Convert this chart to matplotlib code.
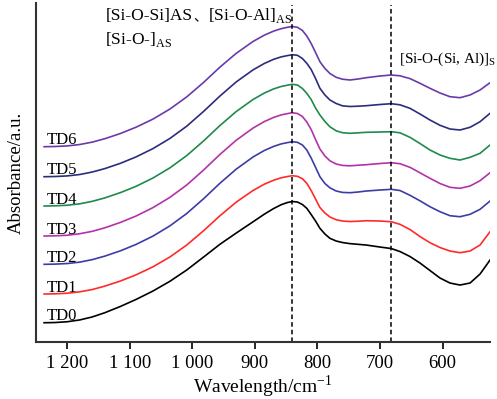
import numpy as np
import matplotlib
matplotlib.use('Agg')
import matplotlib.pyplot as plt

plt.rcParams['font.family'] = ['Liberation Serif', 'Noto Sans CJK SC']
plt.rcParams['mathtext.fontset'] = 'custom'
plt.rcParams['mathtext.rm'] = 'Liberation Serif'

# wavenumber grid (cm-1) and absorbance readings (a.u., curves are offset)
wavenumber = [1237, 1220, 1200, 1180, 1160, 1140, 1115, 1090, 1063, 1036, 1009, 982, 956, 930, 903,
              885, 870, 858, 848, 840, 832, 824, 817, 810, 803, 796, 788, 780, 770, 760,
              748, 735, 722, 700, 682, 668, 652, 636, 620, 604, 588, 572, 556, 540, 524]

td0 = [0.203, 0.205, 0.213, 0.231, 0.261, 0.303, 0.366, 0.436, 0.520, 0.617, 0.730, 0.860, 0.987, 1.099, 1.212,
       1.288, 1.345, 1.383, 1.405, 1.415, 1.410, 1.385, 1.347, 1.285, 1.220, 1.147, 1.090, 1.047, 1.020, 1.005,
       0.994, 0.987, 0.980, 0.960, 0.945, 0.915, 0.865, 0.800, 0.725, 0.650, 0.600, 0.580, 0.600, 0.690, 0.830]
td1 = [0.490, 0.492, 0.498, 0.512, 0.535, 0.569, 0.620, 0.682, 0.762, 0.860, 0.980, 1.123, 1.272, 1.408, 1.525,
       1.588, 1.628, 1.652, 1.665, 1.673, 1.667, 1.643, 1.597, 1.525, 1.440, 1.355, 1.300, 1.260, 1.233, 1.220,
       1.215, 1.218, 1.223, 1.220, 1.213, 1.187, 1.135, 1.065, 1.003, 0.955, 0.920, 0.903, 0.920, 0.980, 1.113]
td2 = [0.787, 0.789, 0.795, 0.809, 0.834, 0.869, 0.922, 0.986, 1.069, 1.171, 1.295, 1.443, 1.597, 1.738, 1.860,
       1.925, 1.966, 1.991, 2.004, 2.013, 2.007, 1.980, 1.930, 1.850, 1.757, 1.663, 1.595, 1.552, 1.520, 1.506,
       1.503, 1.510, 1.520, 1.530, 1.537, 1.525, 1.477, 1.422, 1.363, 1.313, 1.273, 1.263, 1.287, 1.337, 1.420]
td3 = [1.070, 1.072, 1.078, 1.093, 1.117, 1.152, 1.206, 1.270, 1.354, 1.456, 1.580, 1.730, 1.885, 2.027, 2.149,
       2.214, 2.256, 2.281, 2.294, 2.303, 2.295, 2.265, 2.210, 2.135, 2.035, 1.940, 1.870, 1.822, 1.790, 1.776,
       1.772, 1.778, 1.783, 1.795, 1.803, 1.793, 1.757, 1.702, 1.647, 1.595, 1.557, 1.547, 1.570, 1.623, 1.703]
td4 = [1.370, 1.372, 1.378, 1.392, 1.417, 1.451, 1.504, 1.567, 1.650, 1.751, 1.874, 2.021, 2.174, 2.314, 2.435,
       2.499, 2.541, 2.565, 2.578, 2.587, 2.580, 2.545, 2.497, 2.435, 2.350, 2.280, 2.215, 2.162, 2.122, 2.103,
       2.097, 2.102, 2.107, 2.110, 2.113, 2.102, 2.057, 1.995, 1.930, 1.880, 1.847, 1.830, 1.857, 1.897, 1.980]
td5 = [1.663, 1.665, 1.671, 1.685, 1.710, 1.744, 1.797, 1.861, 1.944, 2.045, 2.168, 2.316, 2.469, 2.610, 2.731,
       2.795, 2.837, 2.861, 2.874, 2.883, 2.877, 2.845, 2.797, 2.735, 2.645, 2.547, 2.480, 2.430, 2.395, 2.372,
       2.365, 2.368, 2.373, 2.385, 2.393, 2.382, 2.347, 2.290, 2.230, 2.177, 2.140, 2.130, 2.157, 2.213, 2.297]
td6 = [1.963, 1.965, 1.971, 1.985, 2.009, 2.043, 2.095, 2.158, 2.239, 2.339, 2.461, 2.606, 2.758, 2.896, 3.015,
       3.078, 3.119, 3.143, 3.157, 3.165, 3.157, 3.125, 3.070, 2.995, 2.905, 2.813, 2.745, 2.695, 2.657, 2.638,
       2.630, 2.640, 2.653, 2.670, 2.680, 2.672, 2.644, 2.597, 2.547, 2.500, 2.463, 2.453, 2.480, 2.530, 2.603]

labels = ['TD0', 'TD1', 'TD2', 'TD3', 'TD4', 'TD5', 'TD6']
series = [td0, td1, td2, td3, td4, td5, td6]
colors = ['#000000', '#ff2a2a', '#3c3ca8', '#b233a6', '#1e8a4c', '#2c2c7e', '#6a3aaa']

band_lines = [840, 682]
xticks = [1200, 1100, 1000, 900, 800, 700, 600]
xticklabels = ['1 200', '1 100', '1 000', '900', '800', '700', '600']

fig = plt.figure(figsize=(4.97, 3.99), dpi=100)
ax = fig.add_axes([0.0724, 0.142, 0.9136, 0.8505])

for lab, vals, col in zip(labels, series, colors):
    ax.plot(wavenumber, vals, color=col, linewidth=1.2, solid_joinstyle='round')
    ax.text(1232, vals[0] + 0.025, lab, fontsize=12, va='baseline', ha='left')

for b in band_lines:
    ax.axvline(b, color='black', linestyle=(0, (3, 2)), linewidth=1.1, ymax=0.995)

# band assignments (the CJK comma is drawn on its own so the font fallback works)
ax.text(1139, 3.23, '[Si-O-Si]AS', fontsize=12.5, va='baseline', ha='left')
ax.text(998, 3.23, '、', fontsize=10, va='baseline', ha='left', family='Noto Sans CJK SC')
ax.text(975, 3.23, '[Si-O-Al]$_{\\rm AS}$', fontsize=12.5, va='baseline', ha='left')
ax.text(1139, 2.99, '[Si-O-]$_{\\rm AS}$', fontsize=12.5, va='baseline', ha='left')
ax.text(670, 2.80, '[Si-O-(Si, Al)]$_{\\rm S}$', fontsize=11, va='baseline', ha='left')

ax.set_xlim(1250, 524)
ax.set_ylim(0.007, 3.40)
ax.set_xticks(xticks)
ax.set_xticklabels(xticklabels, fontsize=13.5)
ax.set_yticks([])
ax.tick_params(axis='x', direction='out', length=5, width=1.2, pad=4)
ax.set_xlabel('Wavelength/cm$^{-1}$', fontsize=14, labelpad=1)
ax.set_ylabel('Absorbance/a.u.', fontsize=13.5, labelpad=8)

for s in ['top', 'right']:
    ax.spines[s].set_visible(False)
for s in ['left', 'bottom']:
    ax.spines[s].set_linewidth(1.5)
    ax.spines[s].set_color('#333333')

fig.savefig('out.png', dpi=100, facecolor='white')
